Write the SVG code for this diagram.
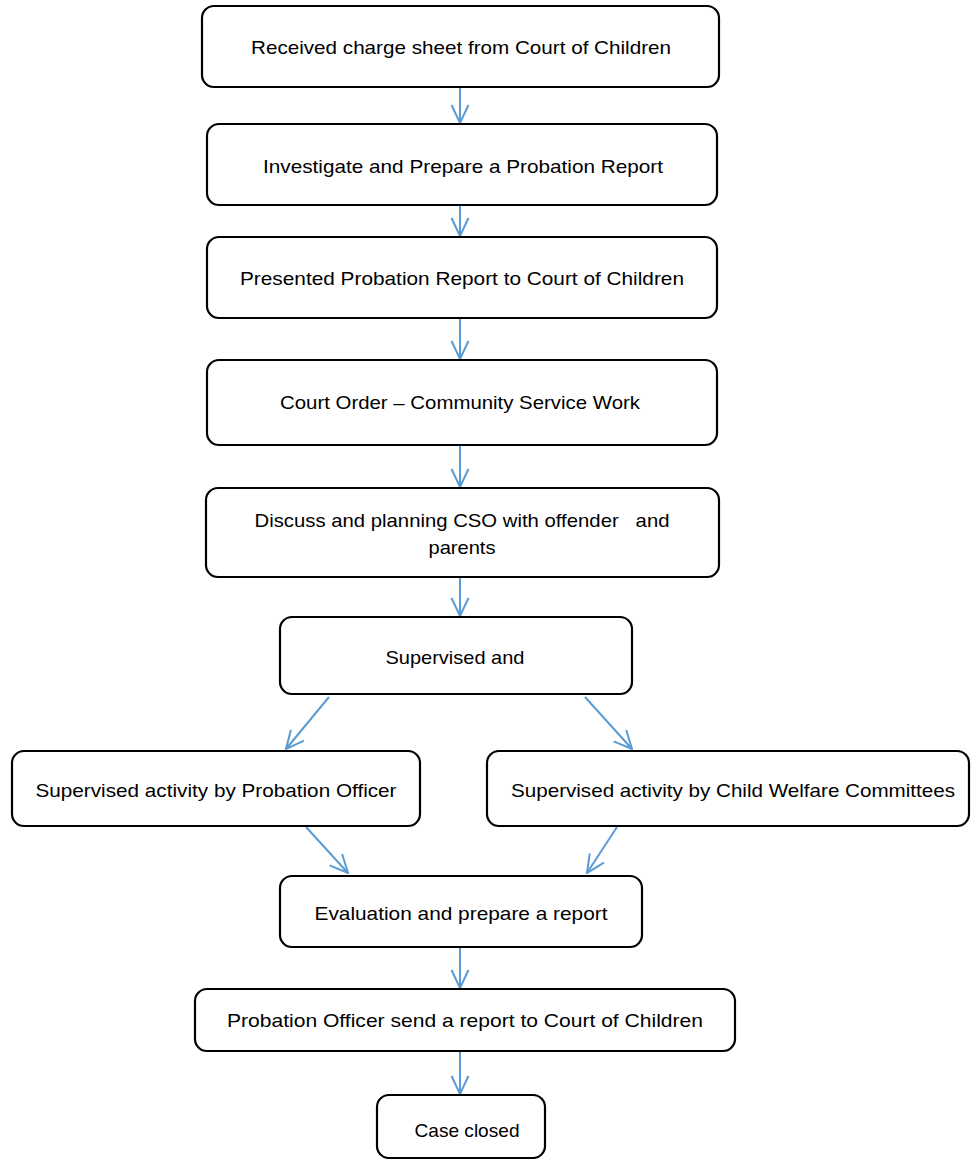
<svg xmlns="http://www.w3.org/2000/svg" width="971" height="1159" viewBox="0 0 971 1159">
  <defs>
    <marker id="arrow" viewBox="0 0 20 20" refX="19" refY="10" markerWidth="20" markerHeight="20" markerUnits="userSpaceOnUse" orient="auto">
      <path d="M1,1.5 L19,10 L1,18.5" fill="none" stroke="#5B9BD5" stroke-width="2"/>
    </marker>
    <style>
      .box { fill: #ffffff; stroke: #000000; stroke-width: 2.2; }
      .lbl { font-family: "Liberation Sans", Arial, sans-serif; font-size: 19px; fill: #000000; text-anchor: middle; }
      .conn { stroke: #5B9BD5; stroke-width: 2; fill: none; marker-end: url(#arrow); }
    </style>
  </defs>
  <rect width="971" height="1159" fill="#ffffff"/>

  <g id="connectors">
    <line class="conn" x1="460" y1="87" x2="460" y2="123"/>
    <line class="conn" x1="460" y1="205" x2="460" y2="236"/>
    <line class="conn" x1="460" y1="318" x2="460" y2="359"/>
    <line class="conn" x1="460" y1="445" x2="460" y2="487"/>
    <line class="conn" x1="460" y1="577" x2="460" y2="616"/>
    <line class="conn" x1="329" y1="697" x2="286" y2="749"/>
    <line class="conn" x1="585" y1="697" x2="632" y2="749"/>
    <line class="conn" x1="306" y1="827" x2="348" y2="873"/>
    <line class="conn" x1="617" y1="827" x2="587" y2="873"/>
    <line class="conn" x1="460" y1="947" x2="460" y2="988"/>
    <line class="conn" x1="460" y1="1051" x2="460" y2="1094"/>
  </g>

  <g id="n1">
    <rect class="box" x="202" y="6" width="517" height="81" rx="12"/>
    <text class="lbl" x="461" y="54" textLength="420" lengthAdjust="spacingAndGlyphs">Received charge sheet from Court of Children</text>
  </g>
  <g id="n2">
    <rect class="box" x="207" y="124" width="510" height="81" rx="12"/>
    <text class="lbl" x="463" y="173" textLength="400" lengthAdjust="spacingAndGlyphs">Investigate and Prepare a Probation Report</text>
  </g>
  <g id="n3">
    <rect class="box" x="207" y="237" width="510" height="81" rx="12"/>
    <text class="lbl" x="462" y="285" textLength="444" lengthAdjust="spacingAndGlyphs">Presented Probation Report to Court of Children</text>
  </g>
  <g id="n4">
    <rect class="box" x="207" y="360" width="510" height="85" rx="12"/>
    <text class="lbl" x="460" y="409" textLength="360" lengthAdjust="spacingAndGlyphs">Court Order – Community Service Work</text>
  </g>
  <g id="n5">
    <rect class="box" x="206" y="488" width="513" height="89" rx="12"/>
    <text class="lbl" x="462" y="527" textLength="415" lengthAdjust="spacingAndGlyphs" xml:space="preserve">Discuss and planning CSO with offender   and</text>
    <text class="lbl" x="462" y="554" textLength="67" lengthAdjust="spacingAndGlyphs">parents</text>
  </g>
  <g id="n6">
    <rect class="box" x="280" y="617" width="352" height="77" rx="12"/>
    <text class="lbl" x="455" y="664" textLength="139" lengthAdjust="spacingAndGlyphs">Supervised and</text>
  </g>
  <g id="n7">
    <rect class="box" x="12" y="751" width="408" height="75" rx="12"/>
    <text class="lbl" x="216" y="797" textLength="361" lengthAdjust="spacingAndGlyphs">Supervised activity by Probation Officer</text>
  </g>
  <g id="n8">
    <rect class="box" x="487" y="751" width="482" height="75" rx="12"/>
    <text class="lbl" x="733" y="797" textLength="444" lengthAdjust="spacingAndGlyphs">Supervised activity by Child Welfare Committees</text>
  </g>
  <g id="n9">
    <rect class="box" x="280" y="876" width="362" height="71" rx="12"/>
    <text class="lbl" x="461" y="920" textLength="293" lengthAdjust="spacingAndGlyphs">Evaluation and prepare a report</text>
  </g>
  <g id="n10">
    <rect class="box" x="195" y="989" width="540" height="62" rx="12"/>
    <text class="lbl" x="465" y="1027" textLength="476" lengthAdjust="spacingAndGlyphs">Probation Officer send a report to Court of Children</text>
  </g>
  <g id="n11">
    <rect class="box" x="377" y="1095" width="168" height="63" rx="12"/>
    <text class="lbl" x="467" y="1137" textLength="105" lengthAdjust="spacingAndGlyphs">Case closed</text>
  </g>
</svg>
